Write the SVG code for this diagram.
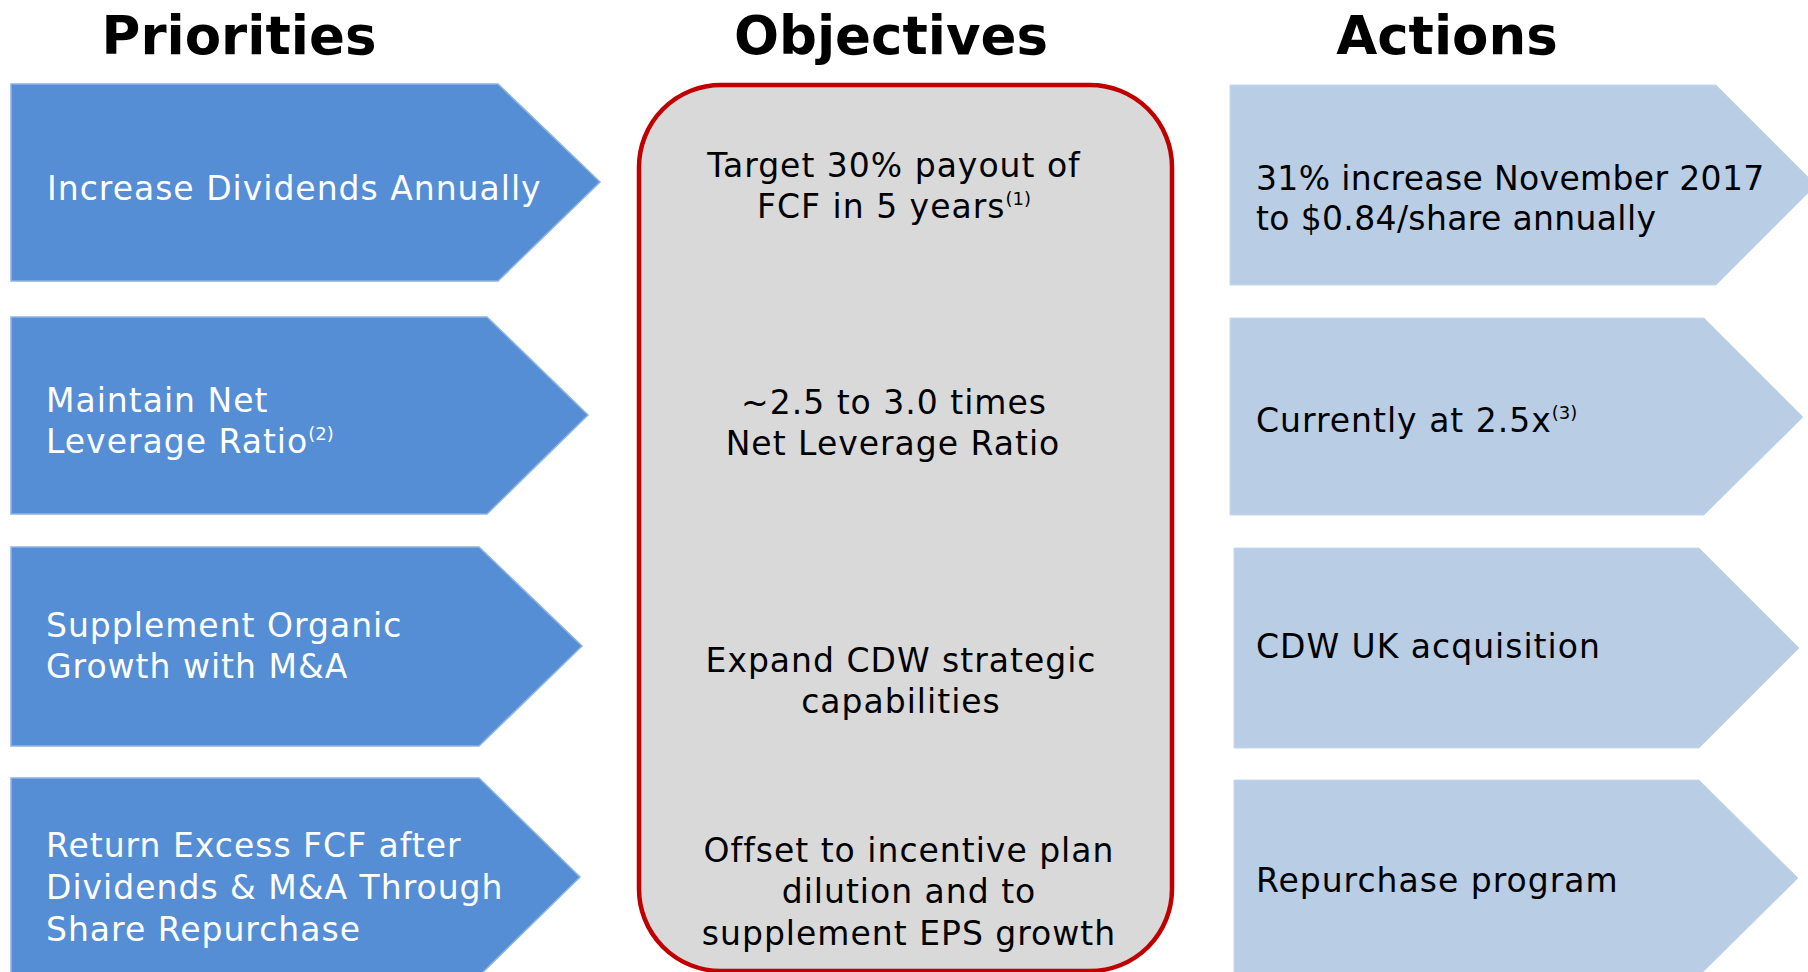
<svg xmlns="http://www.w3.org/2000/svg" width="1808" height="972" viewBox="0 0 1808 972">
<style>
.title{font-family:"DejaVu Sans",Verdana,sans-serif;font-weight:bold;font-size:53px;fill:#000;text-anchor:middle}
.pr{fill:#558ED5;stroke:#8DB3E2;stroke-width:1.5}
.ac{fill:#B9CDE5;stroke:#C6D9F1;stroke-width:1}
.obj{fill:#D9D9D9;stroke:#C00000;stroke-width:4.5}
.t{font-family:"DejaVu Sans",Verdana,sans-serif;font-size:33px;letter-spacing:1px}
.n{letter-spacing:0.35px}
.w{fill:#FFFFFF}
.k{fill:#000000}
.c{text-anchor:middle}
.sup{font-size:18px;letter-spacing:0}
</style>
<rect width="1808" height="972" fill="#FFFFFF"/>
<g id="headers">
<text class="title" x="239" y="54">Priorities</text>
<text class="title" x="891" y="54">Objectives</text>
<text class="title" x="1447" y="54">Actions</text>
</g>
<g id="connectors"></g>
<g id="objectives">
<rect class="obj" x="639" y="85" width="533" height="886" rx="82" ry="82"/>
<text class="t k c"><tspan x="894" y="177">Target 30% payout of</tspan><tspan x="894" y="218">FCF in 5 years<tspan class="sup" dy="-13">(1)</tspan></tspan></text>
<text class="t k c"><tspan x="894" y="414">~2.5 to 3.0 times</tspan><tspan x="893" y="455">Net Leverage Ratio</tspan></text>
<text class="t k c"><tspan x="901" y="672">Expand CDW strategic</tspan><tspan x="901" y="713">capabilities</tspan></text>
<text class="t k c"><tspan x="909" y="862">Offset to incentive plan</tspan><tspan x="909" y="903">dilution and to</tspan><tspan x="909" y="945">supplement EPS growth</tspan></text>
</g>
<g id="priority1">
<polygon class="pr" points="11,84 498,84 600,182 498,281 11,281"/>
<text class="t w" x="47" y="200">Increase Dividends Annually</text>
</g>
<g id="priority2">
<polygon class="pr" points="11,317 487,317 588,415 487,514 11,514"/>
<text class="t w"><tspan x="46" y="412">Maintain Net</tspan><tspan x="46" y="453">Leverage Ratio<tspan class="sup" dy="-13">(2)</tspan></tspan></text>
</g>
<g id="priority3">
<polygon class="pr" points="11,547 479,547 582,646 479,746 11,746"/>
<text class="t w"><tspan x="46" y="637">Supplement Organic</tspan><tspan x="46" y="678">Growth with M&amp;A</tspan></text>
</g>
<g id="priority4">
<polygon class="pr" points="11,778 479,778 580,877 479,976 11,976"/>
<text class="t w"><tspan x="46" y="857">Return Excess FCF after</tspan><tspan x="46" y="899">Dividends &amp; M&amp;A Through</tspan><tspan x="46" y="941">Share Repurchase</tspan></text>
</g>
<g id="action1">
<polygon class="ac" points="1230,85 1716,85 1816,185 1716,285 1230,285"/>
<text class="t n k"><tspan x="1256" y="190">31% increase November 2017</tspan><tspan x="1256" y="230">to $0.84/share annually</tspan></text>
</g>
<g id="action2">
<polygon class="ac" points="1230,318 1704,318 1803,417 1704,515 1230,515"/>
<text class="t k" x="1256" y="432">Currently at 2.5x<tspan class="sup" dy="-13">(3)</tspan></text>
</g>
<g id="action3">
<polygon class="ac" points="1234,548 1699,548 1799,648 1699,748 1234,748"/>
<text class="t k" x="1256" y="658">CDW UK acquisition</text>
</g>
<g id="action4">
<polygon class="ac" points="1234,780 1699,780 1798,878 1699,976 1234,976"/>
<text class="t k" x="1256" y="892">Repurchase program</text>
</g>
</svg>
